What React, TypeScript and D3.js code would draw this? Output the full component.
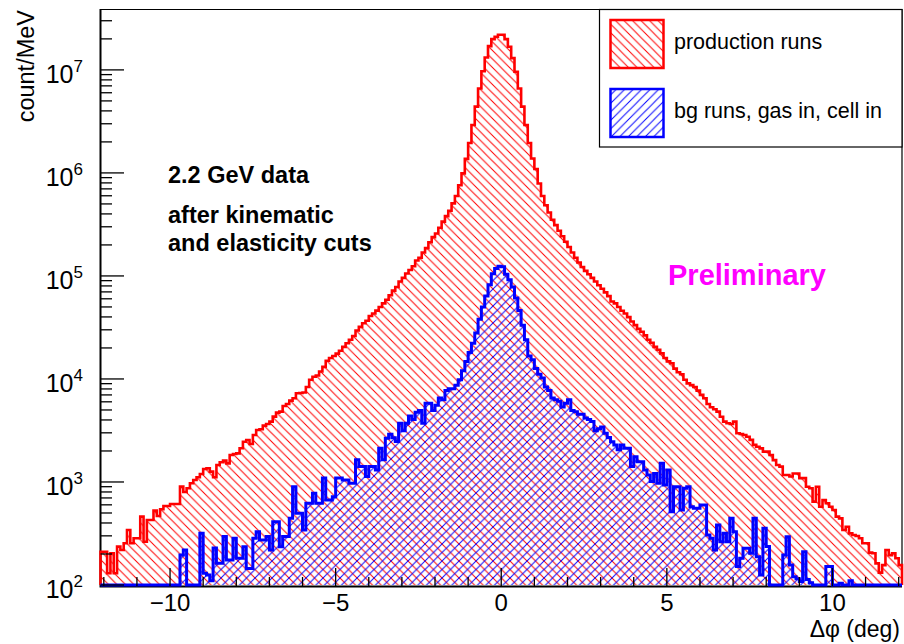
import React, { useEffect, useRef } from "react";
import * as d3 from "d3";

// binning of both histograms (deg)
const binStart = -12.1;
const binWidth = 0.1;

// production runs, count/MeV per bin
const production = [
  210, 210, 130, 203, 130, 236, 219, 254, 342, 254,
  284, 284, 461, 263, 427, 427, 527, 468, 543, 585,
  585, 611, 611, 611, 901, 800, 868, 971, 1046, 1110,
  1196, 1337, 1358, 1259, 1110, 1462, 1552, 1610, 1517, 1827,
  1870, 1897, 2122, 2460, 2556, 2337, 2858, 3199, 3245, 3523,
  3657, 3854, 4309, 4713, 4818, 5470, 5718, 6163, 6490, 7260,
  7300, 7400, 8360, 9840, 10500, 10800, 11800, 13100, 15000, 16000,
  16700, 17600, 18800, 20500, 22200, 24000, 26100, 29500, 32000, 34700,
  36700, 40800, 43200, 46100, 49900, 54200, 58700, 64900, 72000, 78000,
  88300, 95700, 105500, 114000, 124000, 141000, 150000, 169000, 186000, 212000,
  238000, 258000, 294000, 337000, 381000, 430000, 506000, 596000, 760000, 990000,
  1.37e6, 1.95e6, 2.92e6, 4.4e6, 6.6e6, 9.7e6, 1.32e7, 1.7e7, 1.99e7, 2.1e7,
  2.19e7, 2.19e7, 1.99e7, 1.68e7, 1.3e7, 9.6e6, 6.6e6, 4.4e6, 2.92e6, 1.95e6,
  1.38e6, 1.09e6, 790000, 596000, 486000, 413000, 351000, 311000, 275000, 243000,
  215000, 191000, 169000, 150000, 135000, 122000, 112000, 104000, 95700, 88300,
  81300, 75000, 69200, 63700, 56400, 54200, 49900, 46000, 43200, 39800,
  36100, 33300, 30600, 28700, 26500, 24000, 22500, 20500, 19200, 17700,
  16000, 14800, 14200, 12600, 11600, 11100, 9840, 9060, 8710, 8360,
  7710, 7000, 6490, 5710, 5310, 5080, 4820, 4300, 3850, 3710,
  3660, 3850, 2970, 2920, 2860, 2750, 2560, 2290, 2200, 2120,
  1970, 1970, 1830, 1630, 1460, 1410, 1170, 1170, 1130, 1210,
  1210, 1090, 1090, 900, 870, 644, 900, 575, 668, 621,
  575, 535, 461, 443, 342, 368, 317, 306, 299, 284,
  254, 254, 206, 203, 162, 132, 156, 219, 195, 203,
  182, 156,
];

// bg runs, gas in, cell in
const background = [
  0, 0, 0, 0, 0, 0, 0, 0, 0, 0,
  0, 0, 0, 0, 0, 0, 0, 0, 0, 0,
  0, 0, 0, 0, 195, 219, 0, 0, 0, 0,
  318, 130, 125, 110, 229, 163, 163, 296, 175, 175,
  284, 182, 182, 235, 145, 145, 284, 329, 274, 274,
  296, 219, 412, 412, 235, 296, 296, 445, 900, 497,
  497, 342, 621, 621, 777, 621, 621, 1090, 668, 668,
  720, 1090, 1090, 1046, 1046, 971, 971, 1640, 1410, 1410,
  1130, 1410, 1410, 1310, 2120, 1640, 2660, 2900, 2680, 2470,
  3720, 3150, 3720, 4370, 4030, 4740, 4930, 3720, 5800, 5800,
  4930, 5570, 6550, 6290, 7710, 8040, 8040, 8710, 9840, 12000,
  14800, 18100, 22200, 28000, 38000, 50000, 64000, 82000, 105000, 118000,
  124000, 123000, 104000, 91800, 78000, 61100, 46100, 33300, 24000, 16700,
  15400, 12600, 11100, 10200, 8360, 7710, 6550, 6290, 6060, 5350,
  5800, 6290, 4930, 4810, 4550, 4550, 4190, 4030, 3860, 3150,
  3290, 3420, 2970, 2700, 2460, 2280, 2050, 2280, 2120, 2120,
  1410, 1760, 1570, 1570, 1310, 1170, 1010, 1210, 970, 1520,
  935, 1310, 515, 900, 900, 535, 869, 900, 575, 556,
  556, 598, 598, 305, 284, 219, 383, 263, 318, 263,
  444, 329, 151, 182, 227, 227, 203, 444, 188, 125,
  355, 236, 0, 0, 0, 0, 195, 294, 156, 120,
  115, 108, 210, 113, 105, 0, 0, 0, 0, 151,
  151, 0, 0, 104, 0, 0, 110, 0, 0, 0,
  0, 0, 0, 0, 0, 0, 0, 0, 0, 0,
  0, 0,
];

const xMajorTicks = [-10, -5, 0, 5, 10];
const yDecades = [2, 3, 4, 5, 6, 7];
const legendLabels = ["production runs", "bg runs, gas in, cell in"];
const infoLines = ["2.2 GeV data", "after kinematic", "and elasticity cuts"];

const FONT = "'Liberation Sans', Arial, Helvetica, sans-serif";

const Chart = () => {
  const chartRef = useRef(null);

  const drawChart = () => {
    const svg = d3.select(chartRef.current);
    svg.selectAll("*").remove();

    const n = production.length;
    const x = d3
      .scaleLinear()
      .domain([binStart, binStart + n * binWidth])
      .range([100.5, 902]);
    const y = d3.scaleLog().domain([100, 3.9e7]).range([585, 9]);
    const yb = y(100);
    const yv = (v) => (v > 100 ? y(v) : yb);

    // hatch patterns like ROOT fill styles 3004 / 3005
    const defs = svg.append("defs");
    const s = 8.5;
    defs
      .append("pattern")
      .attr("id", "hatchRed")
      .attr("patternUnits", "userSpaceOnUse")
      .attr("width", s)
      .attr("height", s)
      .append("path")
      .attr("d", `M0,0L${s},${s}M-1,${s - 1}L1,${s + 1}M${s - 1},-1L${s + 1},1`)
      .attr("stroke", "#ff0000")
      .attr("stroke-width", 1);
    defs
      .append("pattern")
      .attr("id", "hatchBlue")
      .attr("patternUnits", "userSpaceOnUse")
      .attr("width", s)
      .attr("height", s)
      .append("path")
      .attr("d", `M0,${s}L${s},0M-1,1L1,-1M${s - 1},${s + 1}L${s + 1},${s - 1}`)
      .attr("stroke", "#0000ff")
      .attr("stroke-width", 1);

    svg.append("rect").attr("width", 904).attr("height", 644).attr("fill", "#fff");

    // frame (top / right)
    svg
      .append("path")
      .attr("d", `M100.5,9.5H902V585`)
      .attr("fill", "none")
      .attr("stroke", "#000")
      .attr("stroke-width", 1.2);

    const stepPoints = (vals) => {
      const pts = [[binStart, 0]];
      for (let i = 0; i <= n; i++) pts.push([binStart + i * binWidth, vals[Math.min(i, n - 1)]]);
      pts.push([binStart + n * binWidth, 0]);
      return pts;
    };

    const area = d3
      .area()
      .x((d) => x(d[0]))
      .y0(yb)
      .y1((d) => yv(d[1]))
      .curve(d3.curveStepAfter);
    const line = d3
      .line()
      .x((d) => x(d[0]))
      .y((d) => yv(d[1]))
      .curve(d3.curveStepAfter);

    const series = [
      { vals: production, color: "#ff0000", fill: "url(#hatchRed)", w: 2.6 },
      { vals: background, color: "#0000ff", fill: "url(#hatchBlue)", w: 3 },
    ];

    // axis lines
    svg
      .append("path")
      .attr("d", `M100.5,9V586.5H902`)
      .attr("fill", "none")
      .attr("stroke", "#000")
      .attr("stroke-width", 2);

    series.forEach((sr) => {
      const pts = stepPoints(sr.vals);
      svg.append("path").attr("d", area(pts)).attr("fill", sr.fill).attr("stroke", "none");
    });
    series.forEach((sr) => {
      const pts = stepPoints(sr.vals);
      svg
        .append("path")
        .attr("d", line(pts))
        .attr("fill", "none")
        .attr("stroke", sr.color)
        .attr("stroke-width", sr.w)
        .attr("stroke-linejoin", "miter");
    });

    // x ticks
    const gx = svg.append("g");
    d3.range(-12, 13).forEach((t) => {
      const major = t % 5 === 0;
      gx.append("line")
        .attr("x1", x(t))
        .attr("x2", x(t))
        .attr("y1", 586)
        .attr("y2", major ? 568 : 577)
        .attr("stroke", "#000")
        .attr("stroke-width", 1.3);
    });
    xMajorTicks.forEach((t) => {
      gx.append("text")
        .attr("x", x(t))
        .attr("y", 611)
        .attr("text-anchor", "middle")
        .attr("font-family", FONT)
        .attr("font-size", 24)
        .text(d3.format("")(t));
    });
    svg
      .append("text")
      .attr("x", 900)
      .attr("y", 637)
      .attr("text-anchor", "end")
      .attr("font-family", FONT)
      .attr("font-size", 23)
      .text("\u0394\u03c6 (deg)");

    // y ticks
    const gy = svg.append("g");
    yDecades.forEach((p) => {
      for (let k = 1; k <= 9; k++) {
        const v = k * Math.pow(10, p);
        if (v > 3.9e7) continue;
        gy.append("line")
          .attr("x1", 100.5)
          .attr("x2", k === 1 ? 124 : 112)
          .attr("y1", y(v))
          .attr("y2", y(v))
          .attr("stroke", "#000")
          .attr("stroke-width", 1.3);
      }
      const t = gy
        .append("text")
        .attr("x", 83)
        .attr("y", y(Math.pow(10, p)) + 13)
        .attr("text-anchor", "end")
        .attr("font-family", FONT)
        .attr("font-size", 25);
      t.append("tspan").text("10");
      t.append("tspan").attr("dy", -11).attr("font-size", 17).text(String(p));
    });
    svg
      .append("text")
      .attr("transform", "translate(34,10) rotate(-90)")
      .attr("text-anchor", "end")
      .attr("font-family", FONT)
      .attr("font-size", 23.5)
      .text("count/MeV");

    // annotations
    const infoY = [183, 223, 251];
    infoLines.forEach((txt, i) => {
      svg
        .append("text")
        .attr("x", 168)
        .attr("y", infoY[i])
        .attr("font-family", FONT)
        .attr("font-weight", "bold")
        .attr("font-size", 23.5)
        .text(txt);
    });
    svg
      .append("text")
      .attr("x", 668)
      .attr("y", 285)
      .attr("font-family", FONT)
      .attr("font-weight", "bold")
      .attr("font-size", 29)
      .attr("fill", "#ff00ff")
      .text("Preliminary");

    // legend
    const lg = svg.append("g");
    lg.append("rect")
      .attr("x", 599.5)
      .attr("y", 9.5)
      .attr("width", 302.5)
      .attr("height", 137.5)
      .attr("fill", "#fff")
      .attr("stroke", "#000")
      .attr("stroke-width", 1.2);
    series.forEach((sr, i) => {
      const top = 20 + i * 69;
      lg.append("rect")
        .attr("x", 610.5)
        .attr("y", top)
        .attr("width", 53)
        .attr("height", 48)
        .attr("fill", sr.fill)
        .attr("stroke", sr.color)
        .attr("stroke-width", 2.5);
      lg.append("text")
        .attr("x", 674)
        .attr("y", top + 29)
        .attr("font-family", FONT)
        .attr("font-size", 21.5)
        .text(legendLabels[i]);
    });
  };

  useEffect(() => {
    drawChart();
  }, []);

  return (
    <svg
      ref={chartRef}
      width={904}
      height={644}
      style={{ position: "absolute", left: 0, top: 0, display: "block" }}
    ></svg>
  );
};

export default function App() {
  return <Chart />;
}
